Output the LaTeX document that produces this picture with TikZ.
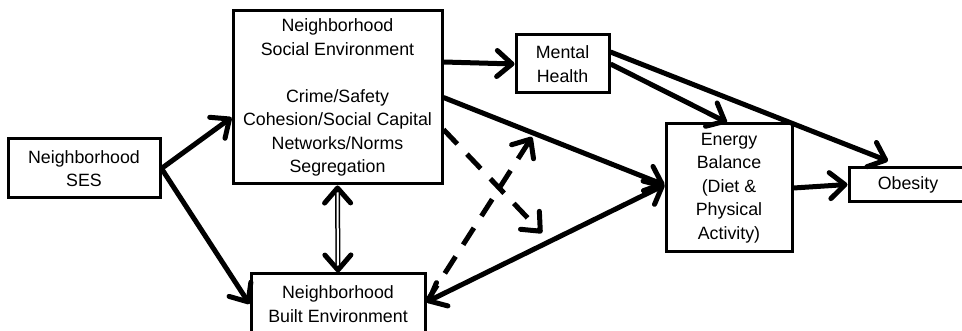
\documentclass[tikz,border=0pt]{standalone}
\usepackage{fontspec}
\setmainfont{Liberation Sans}
\usetikzlibrary{arrows.meta}
\begin{document}
\begin{tikzpicture}[x=1pt,y=-1pt,
  box/.style={draw, line width=3pt, rectangle, align=center, inner sep=0pt,
    font=\fontsize{17.8}{23.5}\selectfont},
  tip/.style={},
  arr/.style={line width=5pt, -{Straight Barb[length=15pt,width=26pt,round]}},
  biarr/.style={line width=5pt, {Straight Barb[length=15pt,width=26pt,round]}-{Straight Barb[length=15pt,width=26pt,round]}},
  dasharr/.style={arr, dash pattern=on 20pt off 14pt}
]
\useasboundingbox (0,0) rectangle (962,331);

\node[box, minimum width=152pt, minimum height=59pt] (ses) at (84,168.5) {Neighborhood\\SES};
\node[box, minimum width=209pt, minimum height=173pt] (soc) at (337.5,97.5)
  {Neighborhood\\Social Environment\\[23.5pt]Crime/Safety\\Cohesion/Social Capital\\Networks/Norms\\Segregation};
\node[box, minimum width=174pt, minimum height=60pt] (blt) at (338,304) {Neighborhood\\Built Environment};
\node[box, minimum width=93pt, minimum height=58pt] (mh) at (562.5,64) {Mental\\Health};
\node[box, minimum width=126pt, minimum height=128pt] (eb) at (729,188) {Energy\\Balance\\(Diet \&\\Physical\\Activity)};
\node[box, minimum width=118pt, minimum height=34pt] (ob) at (908,184.5) {Obesity};

\coordinate (ebin) at ([yshift=3pt]eb.west);
\coordinate (d1) at (542,233);
\coordinate (d2) at (532,137);

% SES arrows
\draw[arr] (ses.east) -- ([yshift=-20pt]soc.west);
\draw[arr] (ses.east) -- (blt.west);

% social environment arrows
\draw[arr] ([yshift=35.5pt]soc.east) -- (mh.west);
\draw[arr] (soc.east) -- (ebin);
\draw[biarr] ([yshift=2pt]blt.east) -- (ebin);

% dashed
\draw[dasharr] ([yshift=-32pt]soc.east) -- (d1);
\draw[dasharr] ([yshift=2pt]blt.east) -- (d2);

% double arrow
\draw[biarr] (soc.south) -- (blt.north);
\draw[white, line width=2pt, shorten <=7pt, shorten >=7pt] (soc.south) -- (blt.north);

% mental health arrows
\draw[arr] (mh.east) -- ([xshift=-2pt]eb.north);
\draw[arr] ([yshift=12pt]mh.east) -- ([xshift=-20pt,yshift=5pt]ob.north);

% energy to obesity
\draw[arr] (eb.east) -- (ob.west);
\end{tikzpicture}
\end{document}
